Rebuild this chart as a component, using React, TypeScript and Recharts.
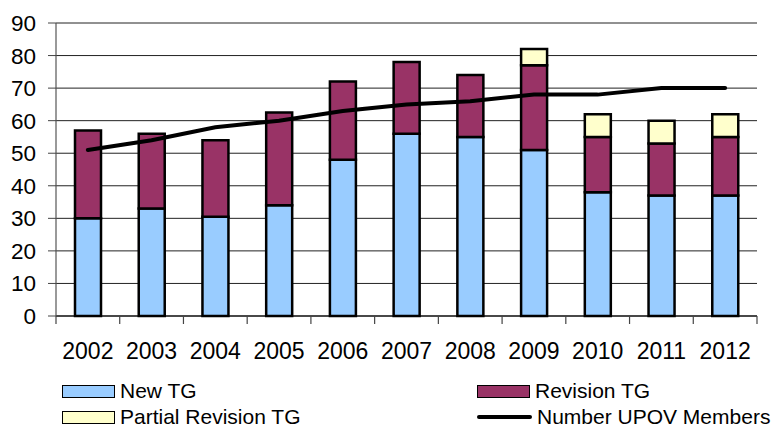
import React from 'react';
import { ComposedChart, Bar, Line, XAxis, YAxis, CartesianGrid, Legend } from 'recharts';

const years = ['2002', '2003', '2004', '2005', '2006', '2007', '2008', '2009', '2010', '2011', '2012'];
const newTG = [30, 33, 30.5, 34, 48, 56, 55, 51, 38, 37, 37];
const revisionTG = [27, 23, 23.5, 28.5, 24, 22, 19, 26, 17, 16, 18];
const partialTG = [0, 0, 0, 0, 0, 0, 0, 5, 7, 7, 7];
const members = [51, 54, 58, 60, 63, 65, 66, 68, 68, 70, 70];
const yTicks = [0, 10, 20, 30, 40, 50, 60, 70, 80, 90];

const data = years.map((y, i) => ({
  year: y,
  newTG: newTG[i],
  revisionTG: revisionTG[i],
  partialTG: partialTG[i],
  members: members[i],
}));

const FONT = '"Liberation Sans", Arial, sans-serif';

const XTick = (props: any) => {
  const { x, y, payload, index, visibleTicksCount, width } = props;
  const half = payload && payload.offset ? payload.offset : width / visibleTicksCount / 2;
  const isLast = index === visibleTicksCount - 1;
  return (
    <g>
      <line x1={x - half} x2={x - half} y1={y - 8} y2={y} stroke="#444" strokeWidth={1.2} />
      {isLast && <line x1={x + half} x2={x + half} y1={y - 8} y2={y} stroke="#444" strokeWidth={1.2} />}
      <text x={x} y={y} dy={35} textAnchor="middle" fontSize={23} fill="#000" fontFamily={FONT}>
        {payload.value}
      </text>
    </g>
  );
};

const legendItems = [
  { label: 'New TG', color: '#99CCFF', type: 'rect', col: 0, row: 0 },
  { label: 'Revision TG', color: '#993366', type: 'rect', col: 1, row: 0 },
  { label: 'Partial Revision TG', color: '#FFFFCC', type: 'rect', col: 0, row: 1 },
  { label: 'Number UPOV Members', color: '#000000', type: 'line', col: 1, row: 1 },
];

const LegendContent = () => (
  <div style={{ position: 'relative', width: 776, height: 50, fontFamily: FONT }}>
    {legendItems.map((it) => (
      <div
        key={it.label}
        style={{
          position: 'absolute',
          left: it.col === 0 ? 62 : 477,
          top: it.row === 0 ? 1 : 27,
          height: 26,
          display: 'flex',
          alignItems: 'center',
          whiteSpace: 'nowrap',
        }}
      >
        {it.type === 'rect' ? (
          <div style={{ width: 51, height: 11, background: it.color, border: '1.5px solid #000', boxSizing: 'content-box' }} />
        ) : (
          <div style={{ width: 55, height: 4, background: '#000', borderRadius: 2 }} />
        )}
        <span style={{ marginLeft: 5, fontSize: 21, color: '#000', lineHeight: '26px' }}>{it.label}</span>
      </div>
    ))}
  </div>
);

export default function App() {
  return (
    <div style={{ position: 'absolute', left: 0, top: 0, width: 776, height: 427, background: '#fff', fontFamily: FONT }}>
      <ComposedChart width={776} height={427} data={data} margin={{ top: 23, right: 19, bottom: 0, left: 0 }}>
        <CartesianGrid vertical={false} stroke="#222" strokeWidth={1} />
        <XAxis
          dataKey="year"
          tickLine={false}
          tickSize={8}
          tickMargin={0}
          height={61}
          axisLine={{ stroke: '#000', strokeWidth: 1.2 }}
          tick={<XTick />}
          interval={0}
        />
        <YAxis
          domain={[0, 90]}
          ticks={yTicks}
          width={56}
          tickSize={8}
          tickMargin={12}
          axisLine={{ stroke: '#555', strokeWidth: 1.2 }}
          tickLine={{ stroke: '#444' }}
          tick={{ fontSize: 22.5, fill: '#000', fontFamily: FONT }}
          interval={0}
        />
        <Legend verticalAlign="bottom" content={<LegendContent />} wrapperStyle={{ left: 0, width: 776, height: 50 }} />
        <Bar dataKey="newTG" stackId="a" fill="#99CCFF" stroke="#000" strokeWidth={2.5} barSize={26} isAnimationActive={false} />
        <Bar dataKey="revisionTG" stackId="a" fill="#993366" stroke="#000" strokeWidth={2.5} barSize={26} isAnimationActive={false} />
        <Bar dataKey="partialTG" stackId="a" fill="#FFFFCC" stroke="#000" strokeWidth={2.5} barSize={26} isAnimationActive={false} />
        <Line dataKey="members" type="linear" stroke="#000" strokeWidth={4} dot={false} strokeLinecap="round" isAnimationActive={false} />
      </ComposedChart>
    </div>
  );
}
